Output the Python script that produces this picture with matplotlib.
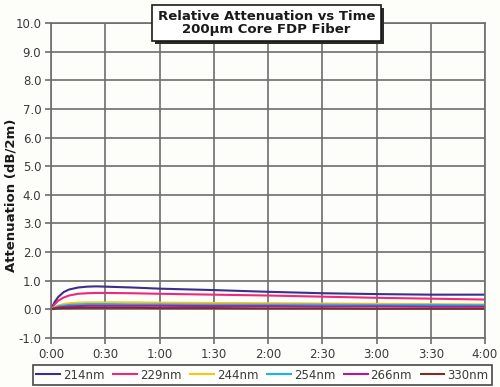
import numpy as np
import matplotlib
matplotlib.use("Agg")
from matplotlib import pyplot as plt

##################################################
# Data (minutes, dB/2m)
time_min = [0, 2, 4, 7, 10, 15, 20, 25, 30, 45, 60, 90, 120, 150, 180, 210, 240]

att_214 = [0, 0.25, 0.43, 0.60, 0.69, 0.76, 0.79, 0.80, 0.79, 0.76, 0.72, 0.67, 0.61, 0.56, 0.53, 0.51, 0.51]
att_229 = [0, 0.17, 0.30, 0.41, 0.48, 0.54, 0.56, 0.57, 0.57, 0.56, 0.54, 0.51, 0.48, 0.44, 0.40, 0.37, 0.34]
att_244 = [0, 0.07, 0.13, 0.18, 0.21, 0.23, 0.24, 0.24, 0.24, 0.24, 0.23, 0.22, 0.21, 0.20, 0.19, 0.18, 0.17]
att_254 = [0, 0.05, 0.10, 0.13, 0.15, 0.17, 0.18, 0.18, 0.18, 0.17, 0.17, 0.16, 0.16, 0.16, 0.15, 0.15, 0.14]
att_266 = [0, 0.03, 0.06, 0.08, 0.10, 0.11, 0.12, 0.12, 0.12, 0.12, 0.12, 0.11, 0.11, 0.10, 0.10, 0.09, 0.09]
att_330 = [0, 0.02, 0.03, 0.04, 0.04, 0.05, 0.05, 0.05, 0.05, 0.05, 0.04, 0.04, 0.03, 0.03, 0.02, 0.02, 0.02]

series = [("214nm", att_214, "#3a2f8c"),
          ("229nm", att_229, "#f0287c"),
          ("244nm", att_244, "#ffc20e"),
          ("254nm", att_254, "#19b4ec"),
          ("266nm", att_266, "#b21a9a"),
          ("330nm", att_330, "#7d2b2e")]

x_ticks = [0, 30, 60, 90, 120, 150, 180, 210, 240]
x_labels = ["0:00", "0:30", "1:00", "1:30", "2:00", "2:30", "3:00", "3:30", "4:00"]
y_ticks = np.arange(-1, 10.5, 1)

##################################################
plt.rcParams['font.family'] = ['DejaVu Sans']
bg = "#fdfdf9"
grid_col = "#6e6e6e"
txt_col = "#3a3a3a"

fig = plt.figure(figsize=(5, 3.87), dpi=100, facecolor=bg)
ax = fig.add_axes([0.102, 0.127, 0.868, 0.813], facecolor=bg)

for name, vals, col in series:
    ax.plot(time_min, vals, color=col, lw=1.5, label=name)

ax.set_xlim(0, 240)
ax.set_ylim(-1, 10)
ax.set_xticks(x_ticks)
ax.set_xticklabels(x_labels)
ax.set_yticks(y_ticks)
ax.set_yticklabels([f"{v:.1f}" for v in y_ticks])
ax.grid(True, color=grid_col, lw=1.2)
ax.set_axisbelow(True)
for s in ax.spines.values():
    s.set_color(grid_col)
    s.set_linewidth(1.2)
ax.tick_params(colors=txt_col, labelsize=8.5, length=4, width=1.2,
               color=grid_col, pad=3)
ax.set_ylabel("Attenuation (dB/2m)", fontsize=9.5, fontweight="bold",
              color="#1a1a1a")
ax.yaxis.set_label_coords(-0.078, 0.454)

# Title box with drop shadow
dx, dy = 3 / 500, 3 / 387
fig.patches.append(plt.Rectangle((0.304 + dx, 0.894 - dy), 0.458, 0.093,
                                 transform=fig.transFigure, fc="#2a2a2a",
                                 ec="none", zorder=3))
fig.patches.append(plt.Rectangle((0.304, 0.894), 0.458, 0.093,
                                 transform=fig.transFigure, fc="white",
                                 ec="#1a1a1a", lw=1.2, zorder=4))
fig.text(0.533, 0.940, "Relative Attenuation vs Time\n200\u00b5m Core FDP Fiber",
         ha="center", va="center", fontsize=9.5, fontweight="bold",
         color="#1a1a1a", linespacing=1.0, zorder=5)

leg = fig.legend(loc="center", bbox_to_anchor=(0.525, 0.031), ncol=6,
                 fontsize=8.5, frameon=True, fancybox=False,
                 handlelength=2.0, handletextpad=0.25, columnspacing=0.75,
                 borderpad=0.3, edgecolor="#1a1a1a", facecolor="white")
leg.get_frame().set_linewidth(1.2)
for t in leg.get_texts():
    t.set_color(txt_col)

plt.savefig("out.png", dpi=100, facecolor=bg)
